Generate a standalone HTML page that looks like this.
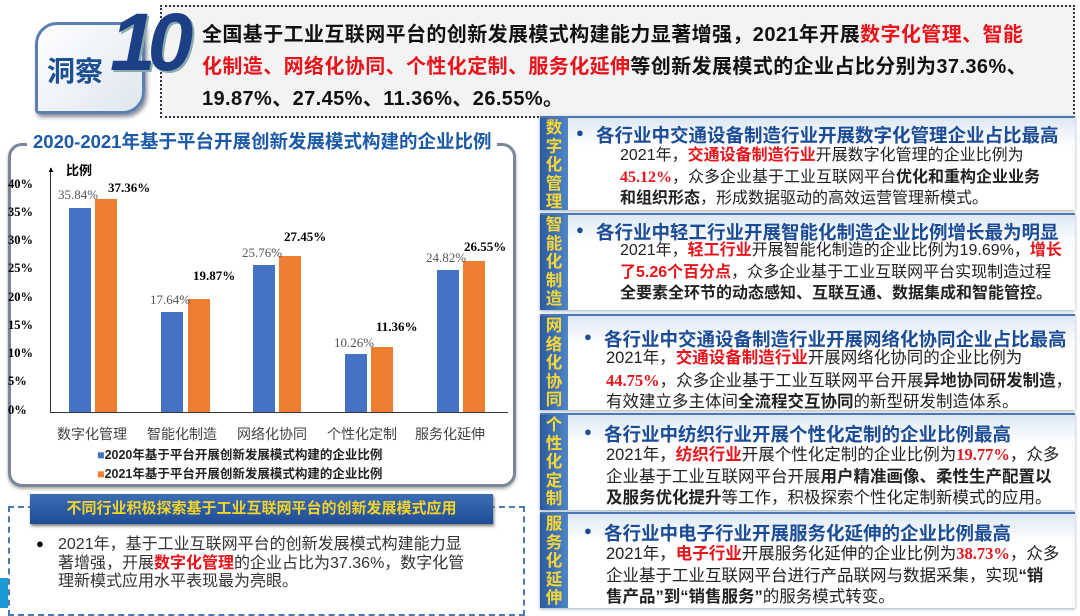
<!DOCTYPE html>
<html><head><meta charset="utf-8"><style>
*{margin:0;padding:0;box-sizing:border-box}
body{width:1080px;height:608px;overflow:hidden;background:#fff;position:relative;font-family:"Liberation Sans","Noto Sans CJK SC",sans-serif}
.a{position:absolute;white-space:nowrap}
.r{color:#e8141b}
.b{font-weight:bold}
.ser{font-family:"Liberation Serif","Noto Serif CJK SC",serif}
.panel{position:absolute;left:540px;width:535px;background:linear-gradient(#dde8f4,#fff 30%);border-top:2px solid #4a78b5;box-shadow:0 1px 3px #9ab}
.tag{position:absolute;left:0;top:0;bottom:0;width:28px;background:linear-gradient(90deg,#2c5aa0,#4f86c6);color:#f7d637;font-weight:bold;font-size:16.5px;line-height:18.5px;text-align:center;padding-top:1px}
.h{position:absolute;left:56px;top:4px;font-size:18.5px;font-weight:bold;color:#1c4c96;white-space:nowrap}
.h:before{content:"●";position:absolute;left:-20px;font-size:13px;top:3px}
.t{position:absolute;left:75px;top:27px;font-size:16.5px;line-height:21.5px;color:#222;white-space:nowrap}
.bar{position:absolute;width:22px}
.bl{background:#4472c4}.or{background:#ed7d31}
.yl{position:absolute;left:8px;font-size:12.5px;font-weight:bold;font-family:"Liberation Serif",serif}
.vl{position:absolute;font-size:13px;font-family:"Liberation Serif",serif}
.cl{position:absolute;top:424px;font-size:14px;color:#444}
</style></head><body>
<!-- header -->
<div class="a" style="left:160px;top:5px;width:915px;height:113px;border:2px dotted #334;background:#f3f3f3"></div>
<div class="a" style="left:35px;top:22px;width:110px;height:92px;border-radius:22px 4px 22px 4px;background:linear-gradient(135deg,#fff,#dfe6ef);border:3px solid #5a7fb0;box-shadow:2px 3px 4px #889"></div>
<div class="a b" style="left:47px;top:50px;font-size:28px;color:#1d4f93">洞察</div>
<div class="a b" style="left:110px;top:-4px;font-size:82px;font-style:italic;color:#1c3f85;font-family:'Liberation Sans',sans-serif;letter-spacing:-8px;text-shadow:2px 2px 0 #8aa">10</div>
<div class="a b" style="left:202px;top:19px;font-size:20px;letter-spacing:0.4px;line-height:32px;color:#111">全国基于工业互联网平台的创新发展模式构建能力显著增强，2021年开展<span class="r">数字化管理、智能</span><br><span class="r">化制造、网络化协同、个性化定制、服务化延伸</span>等创新发展模式的企业占比分别为37.36%、<br>19.87%、27.45%、11.36%、26.55%。</div>
<!-- chart box -->
<div class="a" style="left:8px;top:143px;width:508px;height:344px;border:3px solid #7a8796;border-radius:14px;background:#fff;box-shadow:0 2px 3px #aaa"></div>
<div class="a b" style="left:27px;top:128px;font-size:18.5px;color:#1c5aa8;background:#fff;padding:0 6px">2020-2021年基于平台开展创新发展模式构建的企业比例</div>
<div class="a b" style="left:66px;top:160px;font-size:13px">比例</div>
<div class="a" style="left:50px;top:168px;width:1px;height:244px;background:#333"></div>
<div class="a" style="left:47px;top:165px;font-size:8px;">▲</div>
<div class="a" style="left:50px;top:412px;width:458px;height:1px;background:#333"></div>
<div class="yl" style="top:177px">40%</div><div class="yl" style="top:205px">35%</div><div class="yl" style="top:233px">30%</div><div class="yl" style="top:261px">25%</div><div class="yl" style="top:290px">20%</div><div class="yl" style="top:318px">15%</div><div class="yl" style="top:346px">10%</div><div class="yl" style="top:374px">5%</div><div class="yl" style="top:403px">0%</div>
<div class="bar bl" style="left:69px;top:208px;height:204px"></div><div class="bar or" style="left:95px;top:199px;height:213px"></div>
<div class="bar bl" style="left:161px;top:312px;height:100px"></div><div class="bar or" style="left:188px;top:299px;height:113px"></div>
<div class="bar bl" style="left:253px;top:265px;height:147px"></div><div class="bar or" style="left:279px;top:256px;height:156px"></div>
<div class="bar bl" style="left:345px;top:354px;height:58px"></div><div class="bar or" style="left:371px;top:347px;height:65px"></div>
<div class="bar bl" style="left:437px;top:270px;height:142px"></div><div class="bar or" style="left:463px;top:261px;height:151px"></div>
<div class="vl" style="left:58px;top:187px;color:#555">35.84%</div><div class="vl b" style="left:108px;top:180px">37.36%</div>
<div class="vl" style="left:150px;top:292px;color:#555">17.64%</div><div class="vl b" style="left:193px;top:268px">19.87%</div>
<div class="vl" style="left:242px;top:245px;color:#555">25.76%</div><div class="vl b" style="left:284px;top:229px">27.45%</div>
<div class="vl" style="left:334px;top:335px;color:#555">10.26%</div><div class="vl b" style="left:376px;top:319px">11.36%</div>
<div class="vl" style="left:426px;top:250px;color:#555">24.82%</div><div class="vl b" style="left:464px;top:239px">26.55%</div>
<div class="cl" style="left:57px">数字化管理</div>
<div class="cl" style="left:147px">智能化制造</div>
<div class="cl" style="left:237px">网络化协同</div>
<div class="cl" style="left:327px">个性化定制</div>
<div class="cl" style="left:415px">服务化延伸</div>
<div class="a b" style="left:97px;top:444px;font-size:12.5px;color:#222"><span style="color:#4472c4">■</span>2020年基于平台开展创新发展模式构建的企业比例</div>
<div class="a b" style="left:97px;top:463px;font-size:12.5px;color:#222"><span style="color:#ed7d31">■</span>2021年基于平台开展创新发展模式构建的企业比例</div>
<!-- bottom-left -->
<div class="a" style="left:8px;top:506px;width:517px;height:110px;border:2px dashed #4a78b5"></div>
<div class="a b" style="left:30px;top:494px;width:463px;height:30px;background:linear-gradient(#3b6db5,#1f4d95);color:#f5d327;font-size:15px;line-height:30px;text-align:center;box-shadow:1px 2px 3px #777">不同行业积极探索基于工业互联网平台的创新发展模式应用</div>
<div class="a" style="left:36px;top:536px;font-size:13px">●</div>
<div class="a" style="left:58px;top:536px;font-size:16px;line-height:18.5px;color:#333">2021年，基于工业互联网平台的创新发展模式构建能力显<br>著增强，开展<span class="r b">数字化管理</span>的企业占比为37.36%，数字化管<br>理新模式应用水平表现最为亮眼。</div>
<div class="a" style="left:0;top:578px;width:8px;height:30px;background:#1a9ad6"></div>
<!-- right panels -->
<div class="panel" style="top:116px;height:94px"><div class="tag">数<br>字<br>化<br>管<br>理</div><div class="h">各行业中交通设备制造行业开展数字化管理企业占比最高</div><div class="t" style="left:80px;font-size:16px">2021年，<span class="r b">交通设备制造行业</span>开展数字化管理的企业比例为<br><span class="r b ser">45.12%</span>，众多企业基于工业互联网平台<b>优化和重构企业业务</b><br><b>和组织形态</b>，形成数据驱动的高效运营管理新模式。</div></div>
<div class="panel" style="top:213px;height:97px"><div class="tag">智<br>能<br>化<br>制<br>造</div><div class="h">各行业中轻工行业开展智能化制造企业比例增长最为明显</div><div class="t" style="top:25px;left:80px;font-size:16px">2021年，<span class="r b">轻工行业</span>开展智能化制造的企业比例为19.69%，<span class="r b">增长</span><br><span class="r b">了5.26个百分点</span>，众多企业基于工业互联网平台实现制造过程<br><b>全要素全环节的动态感知、互联互通、数据集成和智能管控。</b></div></div>
<div class="panel" style="top:314px;height:96px"><div class="tag">网<br>络<br>化<br>协<br>同</div><div class="h" style="left:64px;top:10px">各行业中交通设备制造行业开展网络化协同企业占比最高</div><div class="t" style="left:66px;top:32px">2021年，<span class="r b">交通设备制造行业</span>开展网络化协同的企业比例为<br><span class="r b ser">44.75%</span>，众多企业基于工业互联网平台开展<b>异地协同研发制造</b>，<br>有效建立多主体间<b>全流程交互协同</b>的新型研发制造体系。</div></div>
<div class="panel" style="top:413px;height:97px"><div class="tag">个<br>性<br>化<br>定<br>制</div><div class="h" style="left:64px;top:6px">各行业中纺织行业开展个性化定制的企业比例最高</div><div class="t" style="left:66px;top:29px">2021年，<span class="r b">纺织行业</span>开展个性化定制的企业比例为<span class="r b ser">19.77%</span>，众多<br>企业基于工业互联网平台开展<b>用户精准画像、柔性生产配置以</b><br><b>及服务优化提升</b>等工作，积极探索个性化定制新模式的应用。</div></div>
<div class="panel" style="top:512px;height:96px"><div class="tag">服<br>务<br>化<br>延<br>伸</div><div class="h" style="left:64px;top:6px">各行业中电子行业开展服务化延伸的企业比例最高</div><div class="t" style="left:66px;top:29px">2021年，<span class="r b">电子行业</span>开展服务化延伸的企业比例为<span class="r b ser">38.73%</span>，众多<br>企业基于工业互联网平台进行产品联网与数据采集，实现<b>“销</b><br><b>售产品”到“销售服务”</b>的服务模式转变。</div></div>
</body></html>
